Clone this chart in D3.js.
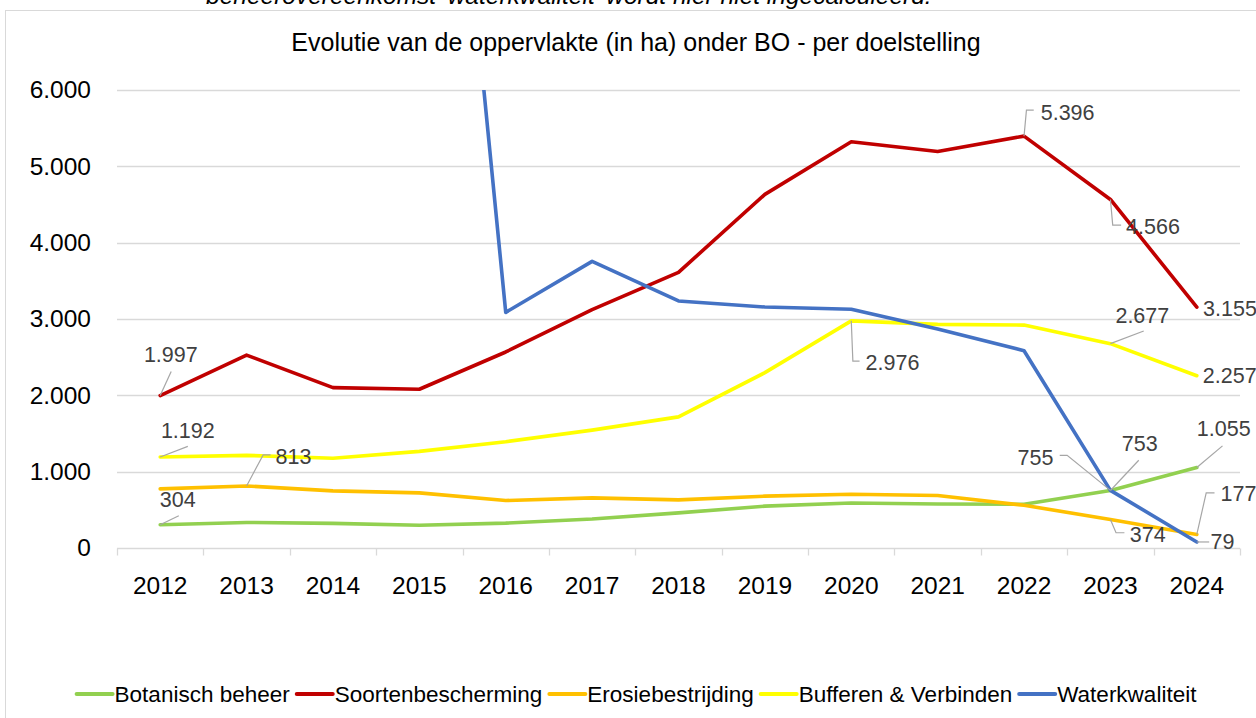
<!DOCTYPE html>
<html>
<head>
<meta charset="utf-8">
<script src="https://cdn.jsdelivr.net/npm/d3@7"></script>
<style>
  html, body { margin: 0; padding: 0; background: #fff; overflow: hidden; }
  svg { display: block; font-family: "Liberation Sans", Arial, sans-serif; }
</style>
</head>
<body>
<div id="chart"></div>
<script>
// data
const years = ["2012", "2013", "2014", "2015", "2016", "2017", "2018", "2019", "2020", "2021", "2022", "2023", "2024"];
const botanisch = [304, 335, 322, 298, 326, 380, 460, 548, 590, 576, 572, 753, 1055];
const soorten = [1997, 2527, 2101, 2080, 2568, 3122, 3611, 4633, 5323, 5195, 5396, 4566, 3155];
const erosie = [774, 813, 748, 722, 622, 657, 631, 679, 705, 687, 560, 374, 177];
const bufferen = [1192, 1214, 1175, 1266, 1392, 1544, 1718, 2297, 2976, 2930, 2920, 2677, 2257];
const water = [null, null, null, 14600, 3087, 3755, 3236, 3157, 3127, 2870, 2584, 755, 79];
const yTicks = [0, 1000, 2000, 3000, 4000, 5000, 6000];

const seriesNames = ["Botanisch beheer", "Soortenbescherming", "Erosiebestrijding", "Bufferen & Verbinden", "Waterkwaliteit"];
const seriesValues = [botanisch, soorten, erosie, bufferen, water];
const seriesColors = ["#92D050", "#C00000", "#FFC000", "#FFFF00", "#4472C4"];

// data labels: series index, year, and where the label sits relative to its point
const labels = [
  { s: 1, year: "2012", dx: 10.6, dy: -41, anchor: "middle", leader: [[11, -24]] },
  { s: 3, year: "2012", dx: 27.6, dy: -27, anchor: "middle", leader: [[27.6, -10.6]] },
  { s: 2, year: "2013", dx: 29, dy: -29, anchor: "start", leader: [[16.6, -31], [24, -31]] },
  { s: 0, year: "2012", dx: 17.6, dy: -25, anchor: "middle", leader: [[18.6, -9]] },
  { s: 1, year: "2022", dx: 16.7, dy: -23.5, anchor: "start", leader: [[2.4, -26], [9.7, -26]] },
  { s: 1, year: "2023", dx: 15.7, dy: 27.4, anchor: "start", leader: [[2.3, 25.7], [10.7, 25.7]] },
  { s: 1, year: "2024", dx: 6.3, dy: 1.3, anchor: "start", leader: null },
  { s: 3, year: "2020", dx: 14.3, dy: 42, anchor: "start", leader: [[1.6, 40.3], [8.3, 40.3]] },
  { s: 3, year: "2023", dx: 5, dy: -28.3, anchor: "start", leader: [[33.3, -12.6]] },
  { s: 3, year: "2024", dx: 6, dy: 0, anchor: "start", leader: null },
  { s: 0, year: "2024", dx: 0, dy: -39, anchor: "start", leader: [[25.7, -21.6]] },
  { s: 0, year: "2023", dx: 11.3, dy: -47.3, anchor: "start", leader: [[28.3, -30.3]] },
  { s: 4, year: "2023", dx: -57, dy: -33, anchor: "end", leader: [[-43.3, -35], [-50.7, -35]] },
  { s: 2, year: "2024", dx: 23.7, dy: -41, anchor: "start", leader: [[9.4, -41.7], [17.7, -41.7]] },
  { s: 2, year: "2023", dx: 19.3, dy: 15, anchor: "start", leader: [[5.6, 13.3], [14, 13.3]] },
  { s: 4, year: "2024", dx: 13.7, dy: 0, anchor: "start", leader: [[12.4, 0]] }
];

const width = 1256, height = 718;
const plot = { left: 117, right: 1240, top: 90, bottom: 548 };

const nl = d3.formatLocale({ decimal: ",", thousands: ".", grouping: [3], currency: ["€", ""] });
const fmt = nl.format(",d");

const svg = d3.select("#chart").append("svg")
  .attr("width", width)
  .attr("height", height);

// note cut off at the top of the picture
svg.append("text")
  .attr("x", 206)
  .attr("y", 4)
  .style("font-size", "24.5px")
  .style("font-style", "italic")
  .attr("fill", "#000")
  .text("beheerovereenkomst 'waterkwaliteit' wordt hier niet ingecalculeerd.");

// chart frame
svg.append("rect")
  .attr("x", 5.5)
  .attr("y", 10.5)
  .attr("width", 1300)
  .attr("height", 800)
  .attr("fill", "#fff")
  .attr("stroke", "#D9D9D9");

svg.append("text")
  .attr("x", 636)
  .attr("y", 42)
  .attr("dy", "0.35em")
  .attr("text-anchor", "middle")
  .style("font-size", "25px")
  .attr("fill", "#000")
  .text("Evolutie van de oppervlakte (in ha) onder BO - per doelstelling");

const x = d3.scaleBand().domain(years).range([plot.left, plot.right]);
const y = d3.scaleLinear().domain([0, 6000]).range([plot.bottom, plot.top]);
const cx = d => x(d) + x.bandwidth() / 2;

// gridlines
svg.append("g")
  .selectAll("line")
  .data(yTicks.filter(t => t > 0))
  .join("line")
  .attr("x1", plot.left)
  .attr("x2", plot.right)
  .attr("y1", d => Math.round(y(d)) + 0.5)
  .attr("y2", d => Math.round(y(d)) + 0.5)
  .attr("stroke", "#D9D9D9")
  .attr("stroke-width", 1.3);

// y axis labels
const yAxis = svg.append("g")
  .attr("transform", `translate(${plot.left},0)`)
  .call(d3.axisLeft(y).tickValues(yTicks).tickFormat(fmt).tickSize(0).tickPadding(26));
yAxis.select(".domain").remove();
yAxis.selectAll("text")
  .style("font-size", "24.5px")
  .style("font-family", "Liberation Sans, Arial, sans-serif")
  .attr("fill", "#000");

// x axis
const xAxis = svg.append("g")
  .attr("transform", `translate(0,${Math.round(y(0)) + 0.5})`);
xAxis.append("line")
  .attr("x1", plot.left).attr("x2", plot.right)
  .attr("stroke", "#D9D9D9").attr("stroke-width", 1.3);
xAxis.selectAll("line.tick")
  .data(years.concat(["end"]))
  .join("line")
  .attr("class", "tick")
  .attr("x1", (d, i) => Math.round(plot.left + i * x.bandwidth()) + 0.5)
  .attr("x2", (d, i) => Math.round(plot.left + i * x.bandwidth()) + 0.5)
  .attr("y1", 0).attr("y2", 7)
  .attr("stroke", "#D9D9D9").attr("stroke-width", 1.3);
xAxis.selectAll("text")
  .data(years)
  .join("text")
  .attr("x", d => cx(d))
  .attr("y", 37)
  .attr("dy", "0.35em")
  .attr("text-anchor", "middle")
  .style("font-size", "24.5px")
  .attr("fill", "#000")
  .text(d => d);

// lines, clipped to the plot area
svg.append("clipPath").attr("id", "plotclip")
  .append("rect")
  .attr("x", plot.left).attr("y", plot.top)
  .attr("width", plot.right - plot.left).attr("height", plot.bottom - plot.top + 10);

const line = d3.line()
  .defined(d => d.v != null)
  .x(d => cx(d.year))
  .y(d => y(d.v));

svg.append("g")
  .attr("clip-path", "url(#plotclip)")
  .selectAll("path")
  .data(seriesValues)
  .join("path")
  .attr("d", vals => line(vals.map((v, i) => ({ year: years[i], v: v }))))
  .attr("fill", "none")
  .attr("stroke", (d, i) => seriesColors[i])
  .attr("stroke-width", 3.6)
  .attr("stroke-linejoin", "round")
  .attr("stroke-linecap", "round");

// data labels with leader lines
const lg = svg.append("g");
labels.forEach(l => {
  const i = years.indexOf(l.year);
  const v = seriesValues[l.s][i];
  const px = cx(l.year), py = y(v);
  if (l.leader) {
    const pts = [[px, py]].concat(l.leader.map(p => [px + p[0], py + p[1]]));
    lg.append("path")
      .attr("d", d3.line()(pts))
      .attr("fill", "none")
      .attr("stroke", "#A6A6A6")
      .attr("stroke-width", 1.2);
  }
  lg.append("text")
    .attr("x", px + l.dx)
    .attr("y", py + l.dy)
    .attr("dy", "0.35em")
    .attr("text-anchor", l.anchor)
    .style("font-size", "21.5px")
    .attr("fill", "#404040")
    .text(fmt(v));
});

// legend
const legend = svg.append("g").attr("transform", "translate(0,694)");
const items = legend.selectAll("g")
  .data(seriesNames)
  .join("g");
items.append("line")
  .attr("x1", 0).attr("x2", 36)
  .attr("stroke", (d, i) => seriesColors[i])
  .attr("stroke-width", 4)
  .attr("stroke-linecap", "round");
items.append("text")
  .attr("x", 38)
  .attr("dy", "0.35em")
  .style("font-size", "22.5px")
  .attr("fill", "#000")
  .text(d => d);

let widths = [];
items.each(function() { widths.push(38 + d3.select(this).select("text").node().getComputedTextLength()); });
const gap = 7;
const total = d3.sum(widths) + gap * (widths.length - 1);
let pos = 636.5 - total / 2;
items.attr("transform", (d, i) => {
  const t = `translate(${pos},0)`;
  pos += widths[i] + gap;
  return t;
});
</script>
</body>
</html>
